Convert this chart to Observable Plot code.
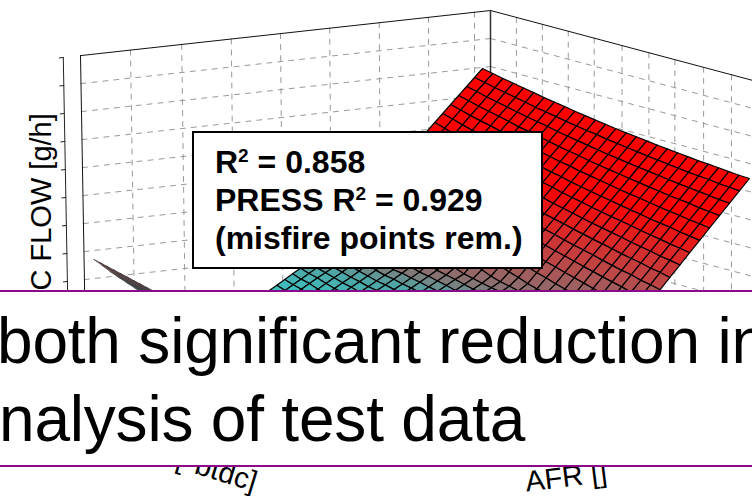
<!DOCTYPE html>
<html>
<head>
<meta charset="utf-8">
<script src="https://cdn.jsdelivr.net/npm/d3@7"></script>
<script src="https://cdn.jsdelivr.net/npm/@observablehq/plot@0.6"></script>
<style>
html,body{margin:0;padding:0;background:#fff;font-family:"Liberation Sans",Arial,sans-serif}
#stage{position:relative;width:752px;height:496px;overflow:hidden;background:#fff}
#stage svg{position:absolute;left:0;top:0;font-family:"Liberation Sans",Arial,sans-serif}
#box{position:absolute;left:192px;top:131px;width:347px;height:134px;border:2px solid #000;background:#fff;font-weight:bold;font-size:32px;line-height:38px;color:#000}
#box div{position:absolute;left:21px;white-space:nowrap}
#box sup{font-size:19px;line-height:0;vertical-align:11px}
#band{position:absolute;left:0;top:290px;width:752px;height:173px;border-top:2px solid #8b0a8b;border-bottom:2px solid #8b0a8b;background:#fff;overflow:hidden;color:#000;font-size:64px;letter-spacing:-0.2px}
#band div{position:absolute;white-space:nowrap;line-height:64px}
</style>
</head>
<body>
<div id="stage">
  <div id="plot"></div>
  <div id="box">
    <div style="top:10px">R<sup>2</sup> = 0.858</div>
    <div style="top:48px">PRESS R<sup>2</sup> = 0.929</div>
    <div style="top:86px">(misfire points rem.)</div>
  </div>
  <div id="band">
    <div style="left:-3px;top:17px">both significant reduction in</div>
    <div style="left:-1px;top:95px">nalysis of test data</div>
  </div>
</div>
<script>
const afrTicks = [2.7, 5.4, 8.1, 10.8, 13.7, 16.5, 19.2, 22.2, 25.1];
const soiTicks = [2, 7.75, 13.9, 20.1, 26.25, 32.4, 38.6, 45];
const flowTicks = [20, 30, 40, 50, 60, 70, 80, 90, 100];
const soiEdge = 51.25;
const afrEdge = 30;
const flowFloor = 10;
const flowTop = 100;

// AFR value of each grid line of the surface
const afrGrid = [0,1.08,2.15,3.23,4.31,5.38,6.46,7.54,8.62,9.69,10.77,11.85,12.92,14,15.08,16.15,17.23,18.31,19.38,20.46,21.54,22.62,23.69,24.77,25.85,26.92,28];

// HC flow read from the surface: one row per SOI grid line, one value per AFR grid line
const flowRows = [
[79.6,78.8,78.0,77.3,76.6,75.9,75.1,74.5,73.9,73.2,72.6,72.0,71.5,70.9,70.4,70.0,69.5,69.0,68.6,68.2,67.8,67.4,67.1,66.8,66.4,66.1,65.9],
[76.7,75.9,75.0,74.3,73.5,72.8,71.9,71.3,70.6,69.9,69.2,68.6,68.1,67.4,66.9,66.4,65.9,65.3,64.9,64.4,64.0,63.5,63.2,62.9,62.4,62.1,61.8],
[73.8,73.0,72.0,71.2,70.4,69.6,68.8,68.1,67.4,66.6,65.9,65.2,64.6,63.9,63.3,62.8,62.2,61.7,61.2,60.7,60.2,59.7,59.3,58.9,58.4,58.0,57.7],
[70.9,70.0,69.0,68.2,67.4,66.5,65.6,64.9,64.1,63.3,62.5,61.8,61.2,60.4,59.8,59.2,58.6,58.0,57.5,56.9,56.4,55.8,55.4,55.0,54.4,54.0,53.6],
[68.0,67.0,66.0,65.1,64.3,63.4,62.4,61.7,60.9,60.0,59.2,58.4,57.8,56.9,56.3,55.6,55.0,54.3,53.7,53.2,52.6,52.0,51.5,51.0,50.4,50.0,49.5],
[65.1,64.1,63.0,62.1,61.2,60.3,59.3,58.4,57.6,56.7,55.8,55.0,54.3,53.4,52.7,52.0,51.3,50.7,50.0,49.4,48.8,48.1,47.6,47.1,46.4,45.9,45.4],
[62.2,61.1,60.0,59.0,58.1,57.1,56.1,55.2,54.3,53.4,52.5,51.6,50.9,49.9,49.2,48.5,47.7,47.0,46.3,45.7,45.0,44.3,43.7,43.1,42.4,41.9,41.3],
[59.3,58.2,57.0,56.0,55.0,54.0,52.9,52.0,51.1,50.1,49.1,48.2,47.4,46.4,45.7,44.9,44.1,43.3,42.6,41.9,41.2,40.4,39.8,39.2,38.4,37.9,37.2],
[56.6,55.4,54.2,53.1,52.1,51.0,49.8,48.9,47.9,46.9,45.8,44.9,44.0,43.0,42.2,41.4,40.5,39.7,38.9,38.2,37.4,36.6,35.9,35.3,34.4,33.9,33.1],
[53.8,52.6,51.3,50.2,49.1,48.0,46.8,45.8,44.8,43.7,42.6,41.6,40.7,39.6,38.7,37.9,36.9,36.1,35.3,34.5,33.6,32.8,32.0,31.4,30.4,29.8,29.0],
[51.1,49.8,48.5,47.3,46.2,45.0,43.7,42.7,41.6,40.5,39.3,38.3,37.3,36.2,35.3,34.3,33.4,32.5,31.6,30.7,29.9,29.0,28.2,27.4,26.5,25.8,24.9],
[48.3,47.0,45.6,44.4,43.2,42.0,40.7,39.6,38.4,37.3,36.1,35.0,34.0,32.8,31.8,30.8,29.8,28.9,27.9,27.0,26.1,25.2,24.3,23.5,22.5,21.8,20.8],
[45.6,44.2,42.8,41.5,40.3,39.0,37.6,36.5,35.3,34.1,32.8,31.7,30.6,29.4,28.3,27.3,26.2,25.3,24.2,23.3,22.3,21.6,21.2,20.8,20.4],
[42.8,41.4,39.9,38.6,37.3,36.0,34.5,33.4,32.1,30.9,29.5,28.4,27.2,26.0,24.8,23.8,22.6,21.7,21.1,20.7,20.2,19.9,19.5],
[40.1,38.6,37.1,35.7,34.4,33.0,31.5,30.3,29.0,27.7,26.3,25.1,23.9,22.6,21.6,21.0,20.3,19.9,19.3,18.9,18.4],
[37.3,35.8,34.2,32.8,31.4,30.0,28.4,27.2,25.8,24.5,23.0,21.8,21.1,20.4,19.8,19.2,18.5,18.1],
[34.6,33.0,31.4,29.9,28.5,27.0,25.3,24.1,22.6,21.4,20.7,20.1,19.3,18.6,18.0,17.4,16.7],
[31.8,30.2,28.5,27.0,25.5,24.0,22.2,21.0,20.1,19.6,18.9,18.3,17.5,16.8,16.2,15.6],
[29.1,27.4,25.7,24.1,22.6,21.0,19.3,19.0,18.3,17.8,17.1,16.5,15.7,15.0,14.4],
[26.3,24.6,22.8,21.2,19.6,18.4,17.6,17.2,16.5,16.0,15.3,14.7,13.9],
[23.6,21.8,20.0,18.3,17.4,16.7,15.9,15.5,14.8,14.3,13.6],
[20.8,19.0,17.2,16.4,15.6,15.0,14.2,13.8,13.1,12.6],
[18.1,16.3,15.5,14.7,13.9,13.3,12.5,12.1,11.4],
[15.5,14.6,14.0,13.0,12.2,11.6,10.8],
[13.8,12.9,12.3,11.3,10.5,9.9],
[12.1,11.2,10.6,9.6,8.8],
[10.4,9.5,8.9,7.9],
[8.7,7.8,7.2],
[7.0,6.1]
];
const flowRowsFirstSoi = 1;

// far end of the surface, seen almost edge-on (visible as the thin wedge at the left)
const farRows = [
[13.1,12.9,12.6,12.4,12.1,11.9,11.6,11.4,11.1,10.9],
[15.2,15.0,14.7,14.5,14.2,14.0,13.7,13.5,13.2,13.0],
[17.4,17.2,16.9,16.7,16.4,16.2,15.9,15.7,15.4,15.2],
[19.6,19.4,19.1,18.9,18.6,18.4,18.1,17.9,17.6,17.4],
[21.9,21.7,21.4,21.2,20.9,20.7,20.4,20.2,19.9,19.7],
[24.4,24.2,23.9,23.7,23.4,23.2,22.9,22.7,22.4,22.2],
[26.8,26.6,26.3,26.1,25.8,25.6,25.3,25.1,24.8,24.6]
];
const farRowsFirstSoi = 44;

const colorStops = [10, 16, 20, 31, 51];
const colorRange = ["#3cbebe", "#50a5a5", "#877373", "#be4646", "#ff0000"];

// 3-D view of the box: AFR runs right, SOI runs left, flow runs up
const px = (afr, soi, flow) => 490 + 9.6 * afr - 8 * soi - 0.0714 * afr * soi + soi * (flowTop - flow) * 0.00096;
const py = (afr, soi, flow) => 10 + 2.56 * afr + 0.88 * soi + (flowTop - flow) * 2.8;

function cells(rows, firstSoi) {
  const out = [];
  rows.forEach((row, r) => {
    const next = rows[r + 1];
    if (!next) return;
    const n = Math.min(row.length, next.length) - 1;
    for (let a = 0; a < n; a++) {
      const soi = firstSoi + r;
      const id = firstSoi + "-" + r + "-" + a;
      const flow = (row[a] + row[a + 1] + next[a] + next[a + 1]) / 4;
      const a0 = afrGrid[a], a1 = afrGrid[a + 1];
      [[a0, soi, row[a]], [a1, soi, row[a + 1]], [a1, soi + 1, next[a + 1]], [a0, soi + 1, next[a]]]
        .forEach(([af, so, fl]) => out.push({id, flow, x: px(af, so, fl), y: py(af, so, fl)}));
    }
  });
  return out;
}
const poly = (id, corners) => corners.map(([af, so, fl]) => ({id, x: px(af, so, fl), y: py(af, so, fl)}));

const dashed = [
  ...flowTicks.slice(0, -1).flatMap(f => [...poly("sl" + f, [[0, soiEdge, f], [0, 0, f]]), ...poly("al" + f, [[0, 0, f], [afrEdge, 0, f]])]),
  ...soiTicks.flatMap(s => poly("s" + s, [[0, s, flowTop], [0, s, flowFloor]])),
  ...afrTicks.flatMap(a => poly("a" + a, [[a, 0, flowTop], [a, 0, flowFloor]]))
];
const walls = [
  ...poly("top", [[0, soiEdge, flowTop], [0, 0, flowTop], [afrEdge, 0, flowTop]]),
  ...poly("edge", [[0, soiEdge, flowTop], [0, soiEdge, flowFloor]])
];
const axisSoi = 53.4;
const axisLine = poly("axis", [[0, axisSoi, flowTop], [0, axisSoi, flowFloor]]);
const axisTicks = flowTicks.flatMap(f => poly("t" + f, [[0, axisSoi, f], [0, axisSoi + 0.5, f]]));
const corner = poly("corner", [[0, 0, flowTop], [0, 0, 75]]);

const labels = [
  {text: "C FLOW [g/h]", x: 50, y: 290, rotate: -90, anchor: "start"},
  {text: "SOI [°btdc]", x: 253, y: 491, rotate: 17, anchor: "end"},
  {text: "AFR []", x: 526, y: 491, rotate: -7, anchor: "start"}
];

const chart = Plot.plot({
  width: 752, height: 496, margin: 0,
  x: {domain: [0, 752], range: [0, 752], axis: null},
  y: {domain: [0, 496], range: [0, 496], axis: null},
  color: {type: "linear", domain: colorStops, range: colorRange, clamp: true, interpolate: "rgb"},
  style: {background: "transparent"},
  marks: [
    Plot.line(dashed, {x: "x", y: "y", z: "id", stroke: "#999", strokeWidth: 1, strokeDasharray: "5,6"}),
    Plot.line(walls, {x: "x", y: "y", z: "id", stroke: "#111", strokeWidth: 1}),
    Plot.line(corner, {x: "x", y: "y", z: "id", stroke: "#333", strokeWidth: 1.5}),
    Plot.line(axisLine, {x: "x", y: "y", z: "id", stroke: "#222", strokeWidth: 1}),
    Plot.line(axisTicks, {x: "x", y: "y", z: "id", stroke: "#222", strokeWidth: 1}),
    Plot.line(cells(farRows, farRowsFirstSoi), {x: "x", y: "y", z: "id", fill: "flow", stroke: "#333", strokeWidth: 0.6, curve: "linear-closed"}),
    Plot.line(cells(flowRows, flowRowsFirstSoi), {x: "x", y: "y", z: "id", fill: "flow", stroke: "#000", strokeWidth: 1.2, curve: "linear-closed"}),
    ...labels.map(l => Plot.text([l], {x: "x", y: "y", text: "text", rotate: l.rotate, textAnchor: l.anchor, lineAnchor: "bottom", fontSize: 29, fill: "#000"}))
  ]
});
document.getElementById("plot").appendChild(chart);
</script>
</body>
</html>
